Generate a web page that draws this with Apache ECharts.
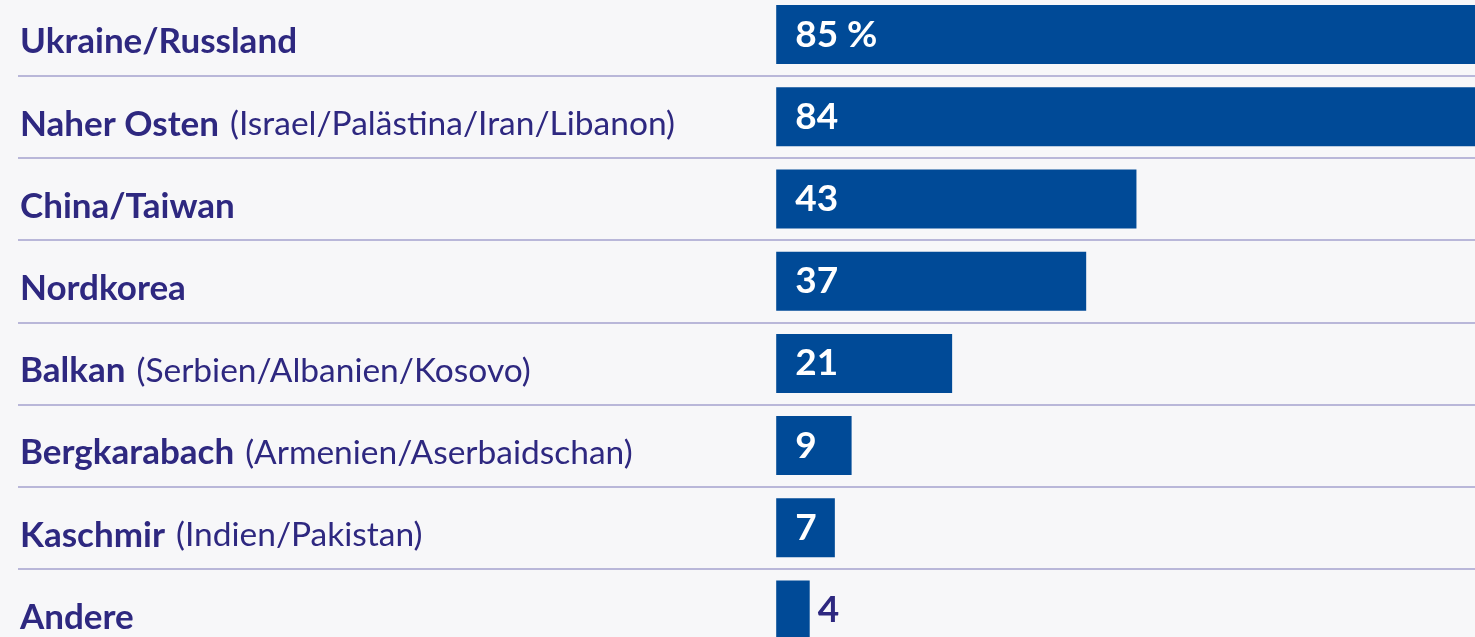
<!DOCTYPE html>
<html><head><meta charset="utf-8">
<script src="https://cdn.jsdelivr.net/npm/echarts@6/dist/echarts.min.js"></script>
<style>html,body{margin:0;padding:0;background:#f7f7f9;overflow:hidden;width:1475px;height:637px;position:relative;}
#c{position:absolute;left:0;top:-10px;width:1500px;height:670px;}</style>
</head><body><div id="c"></div>
<script>
const names = ['Ukraine/Russland','Naher Osten','China/Taiwan','Nordkorea','Balkan','Bergkarabach','Kaschmir','Andere'];
const details = ['', '(Israel/Palästina/Iran/Libanon)', '', '', '(Serbien/Albanien/Kosovo)', '(Armenien/Aserbaidschan)', '(Indien/Pakistan)', ''];
const values = [85,84,43,37,21,9,7,4];
const valueLabels = ['85 %','84','43','37','21','9','7','4'];

const navy = '#2e2880';
const barColor = '#004a97';

const data = values.map((v,i)=>{
  const item = {value: v};
  if (i === values.length - 1) {
    item.label = {position:'right', distance: 8, color: navy};
  }
  return item;
});

const chart = echarts.init(document.getElementById('c'), null, {renderer:'canvas'});
chart.setOption({
  backgroundColor:'#f7f7f9',
  animation:false,
  grid:{left:18, top:3.5, width:1472, height:657.6, containLabel:false},
  xAxis:{type:'value', min:-90.5, max:85.2, show:false},
  yAxis:{
    type:'category', inverse:true, data:names,
    axisLine:{show:false}, axisTick:{show:false},
    splitLine:{show:true, lineStyle:{color:'#b9b7d9', width:2}},
    axisLabel:{
      inside:true, margin:2, align:'left', verticalAlign:'middle',
      padding:[15,0,0,0],
      formatter:(val, idx)=> details[idx] ? '{b|'+val+'}{r|'+details[idx]+'}' : '{b|'+val+'}',
      rich:{
        b:{fontFamily:'Lato', fontWeight:'bold', fontSize:35, color:navy},
        r:{fontFamily:'Lato', fontWeight:'normal', fontSize:33.5, color:navy, padding:[0,0,0,11]}
      }
    }
  },
  series:[{
    type:'bar', data:data, barWidth:59, itemStyle:{color:barColor},
    label:{show:true, position:'insideLeft', distance:19, color:'#ffffff',
      fontFamily:'Lato', fontWeight:'bold', fontSize:37,
      formatter:(p)=>valueLabels[p.dataIndex]}
  }]
});
</script></body></html>
